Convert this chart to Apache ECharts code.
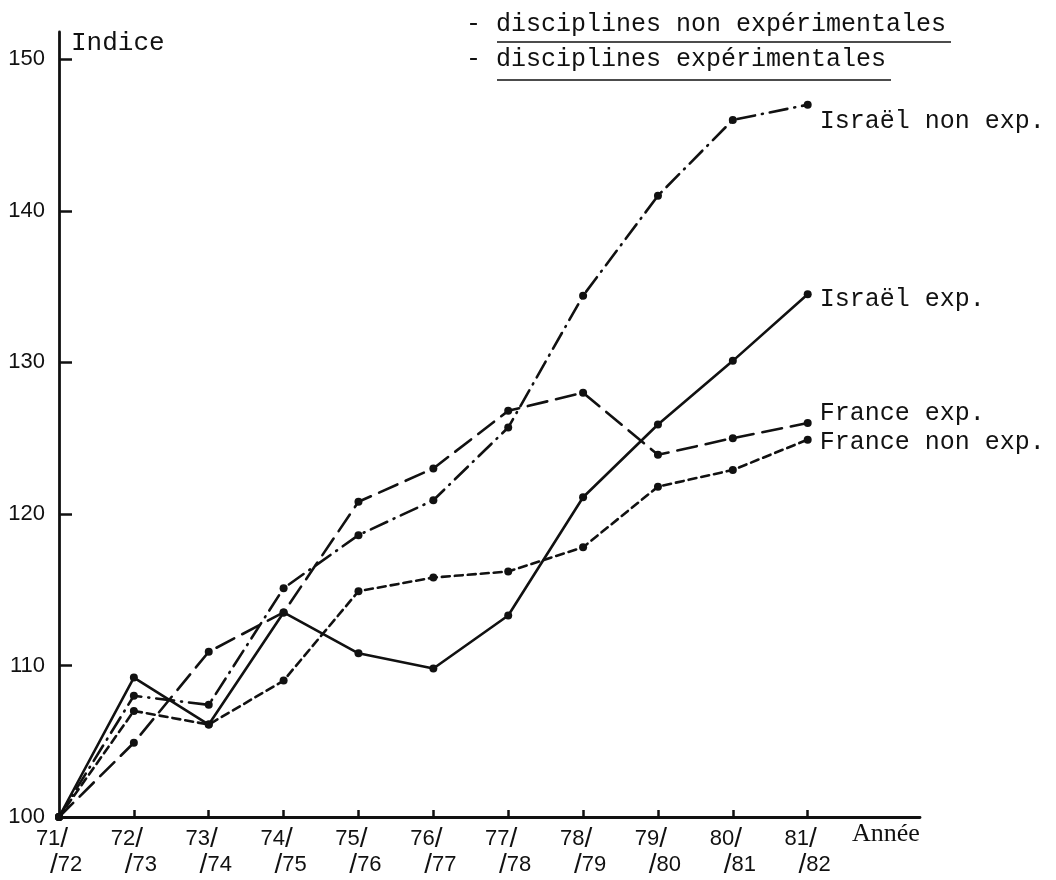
<!DOCTYPE html>
<html>
<head>
<meta charset="utf-8">
<title>Indice</title>
<script src="https://cdn.jsdelivr.net/npm/echarts@6/dist/echarts.min.js"></script>
<style>
  html, body { margin: 0; padding: 0; background: #fff; }
  #chart { width: 1056px; height: 880px; }
</style>
</head>
<body>
<div id="chart"></div>
<script>
// années universitaires 71/72 ... 81/82
const yearFrom = ['71', '72', '73', '74', '75', '76', '77', '78', '79', '80', '81'];
const yearTo = ['72', '73', '74', '75', '76', '77', '78', '79', '80', '81', '82'];
const yTicks = [100, 110, 120, 130, 140, 150];

const israelNonExp = [100, 108.0, 107.4, 115.1, 118.6, 120.9, 125.7, 134.4, 141.0, 146.0, 147.0];
const israelExp = [100, 109.2, 106.1, 113.5, 110.8, 109.8, 113.3, 121.1, 125.9, 130.1, 134.5];
const franceExp = [100, 104.9, 110.9, 113.5, 120.8, 123.0, 126.8, 128.0, 123.9, 125.0, 126.0];
const franceNonExp = [100, 107.0, 106.1, 109.0, 114.9, 115.8, 116.2, 117.8, 121.8, 122.9, 124.9];

const mono = '"Liberation Mono", "DejaVu Sans Mono", monospace';
const sans = '"Liberation Sans", sans-serif';
const ink = '#111';

function toPoints(values, name, dy) {
  return values.map((v, i) => {
    if (i < values.length - 1) return [i, v];
    return {
      value: [i, v],
      label: {
        show: true,
        position: 'right',
        distance: 8,
        offset: [0, dy],
        formatter: name,
        fontFamily: mono,
        fontSize: 25,
        color: ink,
      },
    };
  });
}

function makeSeries(name, values, dash, dy) {
  return {
    name: name,
    type: 'line',
    data: toPoints(values, name, dy),
    symbol: 'circle',
    symbolSize: 8,
    itemStyle: { color: ink },
    lineStyle: { color: ink, width: 2.6, type: dash, cap: 'round' },
    label: { show: false },
    emphasis: { disabled: true },
    animation: false,
    z: 3,
  };
}

const chart = echarts.init(document.getElementById('chart'));

const options = {
  backgroundColor: '#fff',
  grid: { left: 59, right: 136, top: 32, bottom: 63 },
  xAxis: {
    type: 'value',
    min: 0,
    max: 11.5,
    name: 'Année',
    nameLocation: 'end',
    nameGap: -68,
    nameTextStyle: {
      fontFamily: '"Liberation Serif", serif',
      fontSize: 26,
      color: ink,
      align: 'left',
      verticalAlign: 'top',
      padding: [4, 0, 0, 0],
    },
    axisLine: { lineStyle: { color: ink, width: 2.8 } },
    axisTick: {
      inside: true,
      length: 7,
      lineStyle: { color: ink, width: 2.5 },
      customValues: [1, 2, 3, 4, 5, 6, 7, 8, 9, 10],
    },
    axisLabel: {
      margin: 9,
      customValues: [0, 1, 2, 3, 4, 5, 6, 7, 8, 9, 10],
      formatter(value) {
        const i = Math.round(value);
        return `{t|${yearFrom[i]}}{s|/}{p|}\n{p|}{s|/}{b|${yearTo[i]}}`;
      },
      rich: {
        t: { fontFamily: sans, fontSize: 22, color: ink, lineHeight: 26 },
        b: { fontFamily: sans, fontSize: 22, color: ink, lineHeight: 26 },
        s: { fontFamily: sans, fontSize: 28, color: ink, lineHeight: 26 },
        p: { width: 14, lineHeight: 26 },
      },
    },
    splitLine: { show: false },
  },
  yAxis: {
    type: 'value',
    min: 100,
    max: 151.8,
    name: 'Indice',
    nameLocation: 'end',
    nameGap: -11,
    nameTextStyle: {
      fontFamily: mono,
      fontSize: 26,
      color: ink,
      align: 'left',
      verticalAlign: 'middle',
      padding: [0, 0, 0, 12],
    },
    axisLine: { show: true, lineStyle: { color: ink, width: 2.8 } },
    axisTick: {
      show: true,
      inside: true,
      length: 13,
      lineStyle: { color: ink, width: 2.5 },
      customValues: yTicks,
    },
    axisLabel: {
      margin: 14,
      customValues: yTicks,
      fontFamily: sans,
      fontSize: 22,
      color: ink,
    },
    splitLine: { show: false },
  },
  graphic: [
    { type: 'text', left: 466, top: 12, style: { text: '- disciplines non expérimentales', font: '25px ' + mono, fill: ink } },
    { type: 'line', shape: { x1: 497, y1: 42, x2: 951, y2: 42 }, style: { stroke: ink, lineWidth: 1.6 } },
    { type: 'text', left: 466, top: 47, style: { text: '- disciplines expérimentales', font: '25px ' + mono, fill: ink } },
    { type: 'line', shape: { x1: 497, y1: 80, x2: 891, y2: 80 }, style: { stroke: ink, lineWidth: 1.6 } },
  ],
  series: [
    makeSeries('Israël non exp.', israelNonExp, [18, 7, 1, 7], 17),
    makeSeries('Israël exp.', israelExp, 'solid', 5),
    makeSeries('France exp.', franceExp, [20, 9], -10),
    makeSeries('France non exp.', franceNonExp, [8, 5], 3),
  ],
};

chart.setOption(options);
</script>
</body>
</html>
